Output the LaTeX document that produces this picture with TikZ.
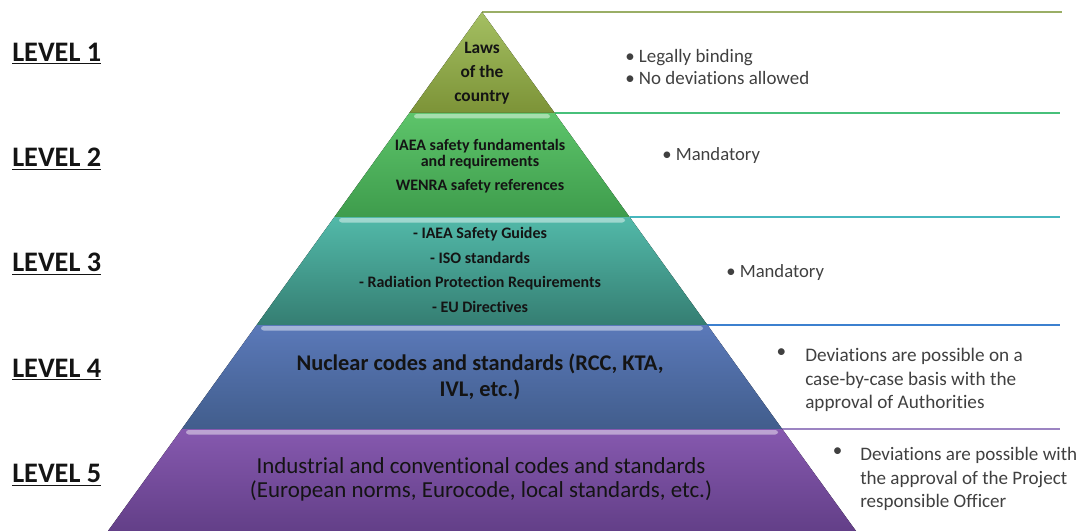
\documentclass[tikz,border=0pt]{standalone}
\usepackage{fontspec}
\setmainfont[Ligatures=NoCommon]{Carlito}
\usetikzlibrary{positioning}
\definecolor{LvOneTop}{HTML}{A4BF62}
\definecolor{LvOneBot}{HTML}{7C9337}
\definecolor{LvOneLine}{HTML}{9AAE66}
\definecolor{LvTwoTop}{HTML}{5DC46A}
\definecolor{LvTwoBot}{HTML}{3E9C4C}
\definecolor{LvTwoLine}{HTML}{47C07A}
\definecolor{LvThreeTop}{HTML}{52B9A9}
\definecolor{LvThreeBot}{HTML}{357E72}
\definecolor{LvThreeLine}{HTML}{46B7BE}
\definecolor{LvFourTop}{HTML}{5B79B9}
\definecolor{LvFourBot}{HTML}{415D8C}
\definecolor{LvFourLine}{HTML}{3C80CF}
\definecolor{LvFiveTop}{HTML}{8659AF}
\definecolor{LvFiveBot}{HTML}{633F88}
\definecolor{LvFiveLine}{HTML}{9C84C2}
\definecolor{NoteGray}{HTML}{404040}
\definecolor{InkDark}{HTML}{141414}

\begin{document}
\begin{tikzpicture}[x=0.75pt,y=-0.75pt,
  levelname/.style={anchor=west,inner sep=0pt,text=InkDark,font=\fontsize{21.2}{24}\selectfont\bfseries},
  bandtext/.style={align=center,inner sep=0pt,text=InkDark},
  note/.style={anchor=west,align=left,inner sep=0pt,text=NoteGray},
  shine/.style={fill=white,opacity=0.45,rounded corners=2pt},
  rule/.style={line width=1.5pt}]
\path[use as bounding box] (0,0) rectangle (1081,531);

% rules running out to the right from each band
\coordinate (t1) at (482,12);    \coordinate (e1) at (1062,12);
\coordinate (t2) at (554.7,113); \coordinate (e2) at (1060,113);
\coordinate (t3) at (629.6,217); \coordinate (e3) at (1060,217);
\coordinate (t4) at (707.4,325); \coordinate (e4) at (1060,325);
\coordinate (t5) at (782.2,429); \coordinate (e5) at (1060,429);
\draw[rule,LvOneLine] (t1) -- (e1);
\draw[rule,LvTwoLine] (t2) -- (e2);
\draw[rule,LvThreeLine] (t3) -- (e3);
\draw[rule,LvFourLine] (t4) -- (e4);
\draw[rule,LvFiveLine] (t5) -- (e5);

% pyramid bands
\fill[top color=LvOneTop,bottom color=LvOneBot] (482,12) -- (554.7,113) -- (409.3,113) -- cycle;
\fill[top color=LvTwoTop,bottom color=LvTwoBot] (409.3,113) -- (554.7,113) -- (629.6,217) -- (334.4,217) -- cycle;
\fill[top color=LvThreeTop,bottom color=LvThreeBot] (334.4,217) -- (629.6,217) -- (707.4,325) -- (256.6,325) -- cycle;
\fill[top color=LvFourTop,bottom color=LvFourBot] (256.6,325) -- (707.4,325) -- (782.2,429) -- (181.8,429) -- cycle;
\fill[top color=LvFiveTop,bottom color=LvFiveBot] (181.8,429) -- (782.2,429) -- (856,531) -- (108,531) -- cycle;
\fill[shine] (414,114) rectangle (550,118.5);
\fill[shine] (339,218) rectangle (625,222.5);
\fill[shine] (261,326) rectangle (703,330.5);
\fill[shine] (186,430) rectangle (778,434.5);

% level names
\node[levelname] (lv1) at (12,54) {\underline{LEVEL 1}};
\node[levelname] (lv2) at (12,159) {\underline{LEVEL 2}};
\node[levelname] (lv3) at (12,264) {\underline{LEVEL 3}};
\node[levelname] (lv4) at (12,370) {\underline{LEVEL 4}};
\node[levelname] (lv5) at (12,475) {\underline{LEVEL 5}};

% text inside the bands
\node[bandtext,font=\fontsize{13}{18}\selectfont\bfseries] (laws) at (482,73) {Laws\\of the\\country};
\node[bandtext,font=\fontsize{12}{12}\selectfont\bfseries] (iaea) at (480,166) {IAEA safety fundamentals\\and requirements\\[6pt]WENRA safety references};
\node[bandtext,font=\fontsize{12}{18.5}\selectfont\bfseries] (guides) at (480,270) {- IAEA Safety Guides\\- ISO standards\\- Radiation Protection Requirements\\- EU Directives};
\node[bandtext,font=\fontsize{16.8}{19.5}\selectfont\bfseries] (nuclear) at (480,377) {Nuclear codes and standards (RCC, KTA,\\IVL, etc.)};
\node[bandtext,font=\fontsize{17.2}{18}\selectfont] (industrial) at (481,479) {Industrial and conventional codes and standards\\(European norms, Eurocode, local standards, etc.)};

% notes on the right
\node[note,font=\fontsize{14.2}{16.5}\selectfont] (n1) at (625,67) {\textbullet\ Legally binding\\\textbullet\ No deviations allowed};
\node[note,font=\fontsize{14}{16.5}\selectfont] (n2) at (662,156) {\textbullet\ Mandatory};
\node[note,font=\fontsize{14}{16.5}\selectfont] (n3) at (726,273) {\textbullet\ Mandatory};
\node[note,font=\fontsize{14.4}{17.6}\selectfont] (n4) at (805,380) {Deviations are possible on a\\case-by-case basis with the\\approval of Authorities};
\node[note,font=\fontsize{14.3}{17.6}\selectfont] (n5) at (860,479) {Deviations are possible with\\the approval of the Project\\responsible Officer};
\node[note,font=\fontsize{14.4}{17.6}\selectfont,left=14pt of n4.north west,anchor=north east] (b4) {\textbullet};
\node[note,font=\fontsize{14.3}{17.6}\selectfont,left=13pt of n5.north west,anchor=north east] (b5) {\textbullet};
\end{tikzpicture}
\end{document}
